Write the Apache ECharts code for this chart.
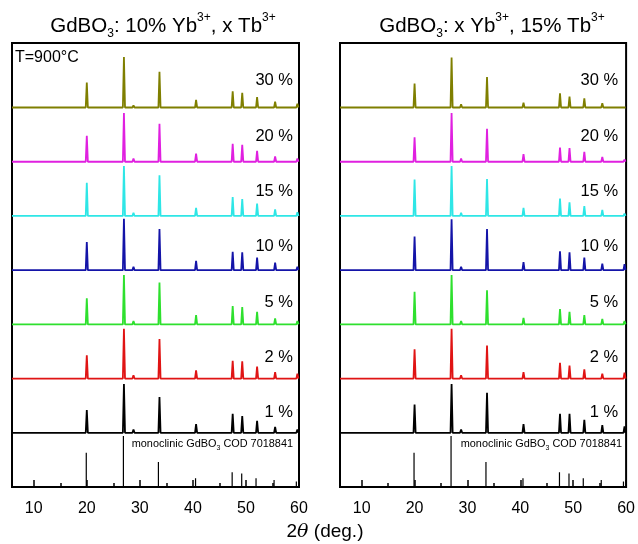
<!DOCTYPE html>
<html>
<head>
<meta charset="utf-8">
<script src="https://cdn.jsdelivr.net/npm/echarts@6/dist/echarts.min.js"></script>
<style>
  html, body { margin: 0; background: #fff; }
  #main { width: 638px; height: 544px; }
</style>
</head>
<body>
<div id="main"></div>
<script>
// 2theta positions of the measured peaks and of the COD reference sticks
var peakPos = [20.0, 27.0, 28.8, 33.7, 40.6, 47.5, 49.3, 52.1, 55.5, 59.7]
var refPos = [19.9, 26.9, 28.8, 33.5, 40.5, 47.4, 49.2, 51.9, 55.3, 59.5]
var refHeight = [0.63, 0.94, 0.03, 0.46, 0.16, 0.27, 0.25, 0.16, 0.13, 0.10]

var dopings = ['1 %', '2 %', '5 %', '10 %', '15 %', '20 %', '30 %']
var colors = ['#000000', '#e01414', '#2ee02e', '#1414a8', '#2ee6e6', '#e020e0', '#7f7f00']

// peak heights (normalised to one strip) - left: 10% Yb, x Tb
var leftHeights = [
  [0.42, 0.90, 0.06, 0.66, 0.16, 0.35, 0.31, 0.22, 0.11, 0.06],
  [0.43, 0.92, 0.06, 0.73, 0.15, 0.33, 0.32, 0.22, 0.12, 0.09],
  [0.48, 0.91, 0.06, 0.77, 0.17, 0.34, 0.32, 0.23, 0.11, 0.06],
  [0.52, 0.95, 0.06, 0.76, 0.17, 0.34, 0.33, 0.23, 0.14, 0.06],
  [0.61, 0.92, 0.06, 0.75, 0.15, 0.35, 0.31, 0.23, 0.12, 0.07],
  [0.48, 0.90, 0.06, 0.70, 0.15, 0.33, 0.31, 0.20, 0.10, 0.06],
  [0.46, 0.93, 0.04, 0.66, 0.14, 0.30, 0.27, 0.19, 0.11, 0.07]
]
// right: x Yb, 15% Tb
var rightHeights = [
  [0.52, 0.90, 0.06, 0.74, 0.16, 0.35, 0.35, 0.24, 0.14, 0.12],
  [0.54, 0.92, 0.06, 0.61, 0.12, 0.29, 0.24, 0.17, 0.09, 0.11],
  [0.60, 0.91, 0.06, 0.63, 0.12, 0.28, 0.23, 0.17, 0.10, 0.06],
  [0.62, 0.94, 0.06, 0.76, 0.15, 0.35, 0.33, 0.23, 0.12, 0.11],
  [0.67, 0.92, 0.06, 0.68, 0.15, 0.32, 0.25, 0.18, 0.11, 0.04],
  [0.45, 0.90, 0.06, 0.61, 0.14, 0.26, 0.25, 0.18, 0.09, 0.04],
  [0.44, 0.92, 0.06, 0.56, 0.09, 0.26, 0.20, 0.17, 0.08, 0.02]
]

var xTicks = [10, 20, 30, 40, 50, 60]
var xMinorTicks = [15, 25, 35, 45, 55]

var X_MIN = 5.9
var X_MAX = 60
var HALF_W = 0.2 // half width of a peak, deg.
var FONT = 'Liberation Sans, Arial, sans-serif'

var chart = echarts.init(document.getElementById('main'))

function patternData(base, heights) {
  var d = [[X_MIN, base]]
  peakPos.forEach(function(p, k) {
    d.push([p - HALF_W, base], [p, base + heights[k]], [p + HALF_W, base])
  })
  d.push([X_MAX, base])
  return d
}

function refData() {
  var d = [[X_MIN, 0]]
  refPos.forEach(function(p, k) {
    d.push([p, 0], [p, refHeight[k]], [p, 0])
  })
  d.push([X_MAX, 0])
  return d
}

var grids = [
  { left: 12, right: 339, top: 43, bottom: 57 },
  { left: 340, right: 10, top: 43, bottom: 57 }
]
var xAxes = []
var yAxes = []
var series = []

grids.forEach(function(g, p) {
  g.show = true
  g.borderColor = '#000'
  g.borderWidth = 2
  xAxes.push({
    type: 'value', gridIndex: p, min: X_MIN, max: X_MAX, position: 'bottom',
    axisLine: { show: true, lineStyle: { color: '#000', width: 2 } },
    axisTick: { show: true, inside: true, length: 7, customValues: xTicks, lineStyle: { color: '#000', width: 1.5 } },
    axisLabel: { customValues: xTicks, color: '#000', fontSize: 16, fontFamily: FONT, margin: 14 },
    splitLine: { show: false }
  })
  xAxes.push({
    type: 'value', gridIndex: p, min: X_MIN, max: X_MAX, position: 'bottom',
    axisLine: { show: false },
    axisTick: { show: true, inside: true, length: 4, customValues: xMinorTicks, lineStyle: { color: '#000', width: 1.5 } },
    axisLabel: { show: false },
    splitLine: { show: false }
  })
  yAxes.push({ type: 'value', gridIndex: p, min: 0, max: 8.19, show: false })

  var heights = p === 0 ? leftHeights : rightHeights
  series.push({
    type: 'line', xAxisIndex: p * 2, yAxisIndex: p, data: refData(),
    symbol: 'none', lineStyle: { color: '#000', width: 1.2 }, silent: true
  })
  dopings.forEach(function(name, i) {
    series.push({
      type: 'line', name: name, xAxisIndex: p * 2, yAxisIndex: p,
      data: patternData(i + 1, heights[i]),
      symbol: 'none', lineStyle: { color: colors[i], width: 1.8 }, silent: true
    })
  })
})

chart.setOption({
  animation: false,
  grid: grids,
  xAxis: xAxes,
  yAxis: yAxes,
  series: series
})

// texts
var graphics = []
var titles = [
  { x: 163, text: '{m|GdBO}{s|3}{m|: 10% Yb}{p|3+}{m|, x Tb}{p|3+}' },
  { x: 492, text: '{m|GdBO}{s|3}{m|: x Yb}{p|3+}{m|, 15% Tb}{p|3+}' }
]
titles.forEach(function(t) {
  graphics.push({
    type: 'text', x: t.x, y: 26,
    style: {
      text: t.text, align: 'center', verticalAlign: 'middle', fill: '#000',
      rich: {
        m: { fontSize: 20.5, fontFamily: FONT, lineHeight: 28 },
        s: { fontSize: 12, fontFamily: FONT, lineHeight: 12, verticalAlign: 'bottom' },
        p: { fontSize: 12, fontFamily: FONT, lineHeight: 12, verticalAlign: 'top' }
      }
    }
  })
})
graphics.push({
  type: 'text', x: 15, y: 58,
  style: { text: 'T=900°C', fontSize: 16, fontFamily: FONT, fill: '#000', verticalAlign: 'middle' }
})
;[293, 622].forEach(function(x) {
  graphics.push({
    type: 'text', x: x, y: 444,
    style: {
      text: '{m|monoclinic GdBO}{s|3}{m| COD 7018841}', align: 'right', verticalAlign: 'middle', fill: '#000',
      rich: {
        m: { fontSize: 10.9, fontFamily: FONT, lineHeight: 16 },
        s: { fontSize: 7, fontFamily: FONT, lineHeight: 8, verticalAlign: 'bottom' }
      }
    }
  })
})
graphics.push({
  type: 'text', x: 325, y: 532,
  style: {
    text: '{n|2}{t|θ}{n| (deg.)}', align: 'center', verticalAlign: 'middle', fill: '#000',
    rich: {
      n: { fontSize: 19, fontFamily: FONT },
      t: { fontSize: 19, fontFamily: 'DejaVu Serif, serif', fontStyle: 'italic' }
    }
  }
})
// doping labels, one per strip
;[0, 1].forEach(function(p) {
  var rightPx = chart.convertToPixel({ gridIndex: p }, [X_MAX, 0])[0]
  dopings.forEach(function(name, i) {
    var basePx = chart.convertToPixel({ gridIndex: p }, [X_MAX, i + 1])[1]
    graphics.push({
      type: 'text', x: rightPx - (p === 0 ? 6 : 8), y: basePx - (20 + 1.1 * i),
      style: { text: name, align: 'right', verticalAlign: 'middle', fontSize: 16.5, fontFamily: FONT, fill: '#000' }
    })
  })
})

chart.setOption({ graphic: graphics })
</script>
</body>
</html>
